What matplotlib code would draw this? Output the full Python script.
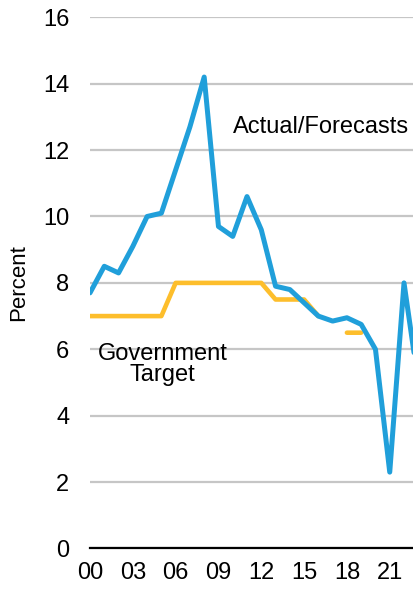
import numpy as np
import matplotlib
matplotlib.use('Agg')
import matplotlib.pyplot as plt

plt.rcParams['font.family'] = ['Liberation Sans', 'DejaVu Sans']

# annual real GDP growth, percent (1999 .. 2022)
years = np.arange(1999, 2023)
actual = [7.7, 8.5, 8.3, 9.1, 10.0, 10.1, 11.4, 12.7, 14.2, 9.7, 9.4, 10.6,
          9.6, 7.9, 7.8, 7.4, 7.0, 6.85, 6.95, 6.75, 6.0, 2.3, 8.0, 5.0]
# government growth target (nan = no point target / range)
target = [7.0, 7.0, 7.0, 7.0, 7.0, 7.0, 8.0, 8.0, 8.0, 8.0, 8.0, 8.0,
          8.0, 7.5, 7.5, 7.5, 7.0, np.nan, 6.5, 6.5, np.nan, np.nan, np.nan, 5.5]

tick_years = [2000, 2003, 2006, 2009, 2012, 2015, 2018, 2021]
tick_labels = ['00', '03', '06', '09', '12', '15', '18', '21']
y_ticks = [0, 2, 4, 6, 8, 10, 12, 14, 16]

BLUE = '#209FDA'
GOLD = '#FDBE2C'


def main():
    fig = plt.figure(figsize=(4.14, 5.96), dpi=100)
    ax = fig.add_axes([0.2174, 0.0797, 0.7826, 0.8913])

    # annual data is dated at year-end
    x = years + 1

    ax.plot(x, target, color=GOLD, lw=3.3, solid_capstyle='round',
            solid_joinstyle='round', zorder=3)
    ax.plot(x, actual, color=BLUE, lw=3.6, solid_capstyle='round',
            solid_joinstyle='round', zorder=4)

    ax.set_xlim(2000, 2022.7)
    ax.set_ylim(0, 16)
    ax.set_yticks(y_ticks)
    ax.set_xticks(tick_years)
    ax.set_xticklabels(tick_labels)

    ax.grid(axis='y', color='#C6C6C6', lw=1.6)
    ax.set_axisbelow(True)
    for side in ['top', 'right', 'left']:
        ax.spines[side].set_visible(False)
    ax.spines['bottom'].set_color('black')
    ax.spines['bottom'].set_linewidth(1.6)

    ax.tick_params(axis='both', length=0, labelsize=17, colors='black')
    ax.tick_params(axis='y', pad=15)
    ax.tick_params(axis='x', pad=10)

    ax.set_ylabel('Percent', fontsize=16, labelpad=10)

    ax.text(2016.2, 12.7, 'Actual/Forecasts', fontsize=17,
            ha='center', va='center')
    ax.text(2005.1, 5.55, 'Government\nTarget', fontsize=17,
            ha='center', va='center', linespacing=0.95)

    fig.savefig('out.png', dpi=100)


if __name__ == '__main__':
    main()
